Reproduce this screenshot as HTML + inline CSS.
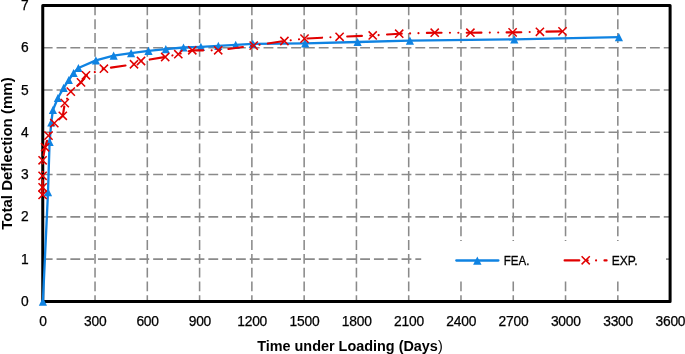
<!DOCTYPE html>
<html lang="en"><head><meta charset="utf-8"><title>Total Deflection vs Time under Loading</title>
<style>html,body{margin:0;padding:0;background:#fff;}body{width:685px;height:354px;overflow:hidden;}svg{display:block;}text{font-family:'Liberation Sans', sans-serif;fill:#000;}</style>
</head><body>
<svg width="685" height="354" viewBox="0 0 685 354">
<rect x="0" y="0" width="685" height="354" fill="#ffffff"/>
<g stroke="#8a8a8a" stroke-width="1.55" stroke-dasharray="9.85 3.95" fill="none">
<line x1="42.75" y1="259.13" x2="670.10" y2="259.13"/>
<line x1="42.75" y1="216.86" x2="670.10" y2="216.86"/>
<line x1="42.75" y1="174.59" x2="670.10" y2="174.59"/>
<line x1="42.75" y1="132.31" x2="670.10" y2="132.31"/>
<line x1="42.75" y1="90.04" x2="670.10" y2="90.04"/>
<line x1="42.75" y1="47.77" x2="670.10" y2="47.77"/>
<line x1="95.03" y1="5.50" x2="95.03" y2="301.40"/>
<line x1="147.31" y1="5.50" x2="147.31" y2="301.40"/>
<line x1="199.59" y1="5.50" x2="199.59" y2="301.40"/>
<line x1="251.87" y1="5.50" x2="251.87" y2="301.40"/>
<line x1="304.15" y1="5.50" x2="304.15" y2="301.40"/>
<line x1="356.43" y1="5.50" x2="356.43" y2="301.40"/>
<line x1="408.70" y1="5.50" x2="408.70" y2="301.40"/>
<line x1="460.98" y1="5.50" x2="460.98" y2="301.40"/>
<line x1="513.26" y1="5.50" x2="513.26" y2="301.40"/>
<line x1="565.54" y1="5.50" x2="565.54" y2="301.40"/>
<line x1="617.82" y1="5.50" x2="617.82" y2="301.40"/>
</g>
<rect x="421.2" y="241" width="244.8" height="40" fill="#fff"/>
<rect x="42.75" y="5.50" width="627.35" height="295.90" fill="none" stroke="#000" stroke-width="3" stroke-linejoin="round"/>
<polyline points="42.90,301.60 48.00,192.10 49.60,141.90 51.30,122.40 52.90,110.00 57.90,98.00 63.60,87.90 68.80,80.00 73.60,73.00 78.40,68.00 95.90,60.40 113.65,55.70 131.10,53.10 148.50,50.85 165.80,49.10 183.50,47.50 200.90,46.80 218.35,45.80 235.70,44.80 252.80,43.80 305.20,43.30 357.60,42.00 409.90,40.70 514.30,39.40 618.90,37.10" fill="none" stroke="#0F83E2" stroke-width="2.3" stroke-linejoin="round" stroke-linecap="round"/>
<g fill="#0F83E2">
<polygon points="42.90,297.50 47.00,305.70 38.80,305.70"/>
<polygon points="48.00,188.00 52.10,196.20 43.90,196.20"/>
<polygon points="49.60,137.80 53.70,146.00 45.50,146.00"/>
<polygon points="51.30,118.30 55.40,126.50 47.20,126.50"/>
<polygon points="52.90,105.90 57.00,114.10 48.80,114.10"/>
<polygon points="57.90,93.90 62.00,102.10 53.80,102.10"/>
<polygon points="63.60,83.80 67.70,92.00 59.50,92.00"/>
<polygon points="68.80,75.90 72.90,84.10 64.70,84.10"/>
<polygon points="73.60,68.90 77.70,77.10 69.50,77.10"/>
<polygon points="78.40,63.90 82.50,72.10 74.30,72.10"/>
<polygon points="95.90,56.30 100.00,64.50 91.80,64.50"/>
<polygon points="113.65,51.60 117.75,59.80 109.55,59.80"/>
<polygon points="131.10,49.00 135.20,57.20 127.00,57.20"/>
<polygon points="148.50,46.75 152.60,54.95 144.40,54.95"/>
<polygon points="165.80,45.00 169.90,53.20 161.70,53.20"/>
<polygon points="183.50,43.40 187.60,51.60 179.40,51.60"/>
<polygon points="200.90,42.70 205.00,50.90 196.80,50.90"/>
<polygon points="218.35,41.70 222.45,49.90 214.25,49.90"/>
<polygon points="235.70,40.70 239.80,48.90 231.60,48.90"/>
<polygon points="252.80,39.70 256.90,47.90 248.70,47.90"/>
<polygon points="305.20,39.20 309.30,47.40 301.10,47.40"/>
<polygon points="357.60,37.90 361.70,46.10 353.50,46.10"/>
<polygon points="409.90,36.60 414.00,44.80 405.80,44.80"/>
<polygon points="514.30,35.30 518.40,43.50 510.20,43.50"/>
<polygon points="618.90,33.00 623.00,41.20 614.80,41.20"/>
</g>
<polyline points="42.60,194.90 42.60,187.30 42.60,175.80 42.60,160.30 45.10,147.30 48.50,135.60 54.30,123.10 62.80,115.80 64.80,103.10 70.80,91.60 81.00,82.40 86.00,75.30 103.90,68.70 134.00,64.25 141.00,61.00 165.20,57.00 178.30,54.20 192.30,50.30 218.20,50.30 253.70,45.60 284.40,41.00 304.50,38.60 339.60,36.80 372.70,35.45 399.20,33.70 434.70,32.70 470.40,32.70 512.60,32.40 539.90,31.80 562.50,31.40" fill="none" stroke="#E10000" stroke-width="2.15" stroke-linejoin="round" stroke-linecap="round" stroke-dasharray="14.68 8.39 0.01 8.39 0.01 8.39" stroke-dashoffset="0"/>
<g stroke="#E10000" stroke-width="1.5" fill="none" stroke-linecap="butt">
<path d="M38.50 190.80L46.70 199.00M38.50 199.00L46.70 190.80"/>
<path d="M38.50 183.20L46.70 191.40M38.50 191.40L46.70 183.20"/>
<path d="M38.50 171.70L46.70 179.90M38.50 179.90L46.70 171.70"/>
<path d="M38.50 156.20L46.70 164.40M38.50 164.40L46.70 156.20"/>
<path d="M41.00 143.20L49.20 151.40M41.00 151.40L49.20 143.20"/>
<path d="M44.40 131.50L52.60 139.70M44.40 139.70L52.60 131.50"/>
<path d="M50.20 119.00L58.40 127.20M50.20 127.20L58.40 119.00"/>
<path d="M58.70 111.70L66.90 119.90M58.70 119.90L66.90 111.70"/>
<path d="M60.70 99.00L68.90 107.20M60.70 107.20L68.90 99.00"/>
<path d="M66.70 87.50L74.90 95.70M66.70 95.70L74.90 87.50"/>
<path d="M76.90 78.30L85.10 86.50M76.90 86.50L85.10 78.30"/>
<path d="M81.90 71.20L90.10 79.40M81.90 79.40L90.10 71.20"/>
<path d="M99.80 64.60L108.00 72.80M99.80 72.80L108.00 64.60"/>
<path d="M129.90 60.15L138.10 68.35M129.90 68.35L138.10 60.15"/>
<path d="M136.90 56.90L145.10 65.10M136.90 65.10L145.10 56.90"/>
<path d="M161.10 52.90L169.30 61.10M161.10 61.10L169.30 52.90"/>
<path d="M174.20 50.10L182.40 58.30M174.20 58.30L182.40 50.10"/>
<path d="M188.20 46.20L196.40 54.40M188.20 54.40L196.40 46.20"/>
<path d="M214.10 46.20L222.30 54.40M214.10 54.40L222.30 46.20"/>
<path d="M249.60 41.50L257.80 49.70M249.60 49.70L257.80 41.50"/>
<path d="M280.30 36.90L288.50 45.10M280.30 45.10L288.50 36.90"/>
<path d="M300.40 34.50L308.60 42.70M300.40 42.70L308.60 34.50"/>
<path d="M335.50 32.70L343.70 40.90M335.50 40.90L343.70 32.70"/>
<path d="M368.60 31.35L376.80 39.55M368.60 39.55L376.80 31.35"/>
<path d="M395.10 29.60L403.30 37.80M395.10 37.80L403.30 29.60"/>
<path d="M430.60 28.60L438.80 36.80M430.60 36.80L438.80 28.60"/>
<path d="M466.30 28.60L474.50 36.80M466.30 36.80L474.50 28.60"/>
<path d="M508.50 28.30L516.70 36.50M508.50 36.50L516.70 28.30"/>
<path d="M535.80 27.70L544.00 35.90M535.80 35.90L544.00 27.70"/>
<path d="M558.40 27.30L566.60 35.50M558.40 35.50L566.60 27.30"/>
</g>
<g font-size="13.8" text-anchor="end" stroke="#000" stroke-width="0.25">
<text x="28.6" y="305.90">0</text>
<text x="28.6" y="263.63">1</text>
<text x="28.6" y="221.36">2</text>
<text x="28.6" y="179.09">3</text>
<text x="28.6" y="136.81">4</text>
<text x="28.6" y="94.54">5</text>
<text x="28.6" y="52.27">6</text>
<text x="28.6" y="10.00">7</text>
</g>
<g font-size="13.8" text-anchor="middle" stroke="#000" stroke-width="0.25" letter-spacing="-0.2">
<text x="43.05" y="325.5">0</text>
<text x="95.33" y="325.5">300</text>
<text x="147.61" y="325.5">600</text>
<text x="199.89" y="325.5">900</text>
<text x="252.17" y="325.5">1200</text>
<text x="304.45" y="325.5">1500</text>
<text x="356.73" y="325.5">1800</text>
<text x="409.00" y="325.5">2100</text>
<text x="461.28" y="325.5">2400</text>
<text x="513.56" y="325.5">2700</text>
<text x="565.84" y="325.5">3000</text>
<text x="618.12" y="325.5">3300</text>
<text x="670.40" y="325.5">3600</text>
</g>
<text x="257.2" y="351" font-size="14" font-weight="bold" textLength="185.5" lengthAdjust="spacingAndGlyphs">Time under Loading (Days<tspan font-weight="normal">)</tspan></text>
<text transform="translate(12.2 229.8) rotate(-90)" x="0" y="0" font-size="14" font-weight="bold" textLength="152.5" lengthAdjust="spacingAndGlyphs">Total Deflection (mm)</text>
<line x1="456.3" y1="260.5" x2="498.4" y2="260.5" stroke="#0F83E2" stroke-width="2.3" stroke-linecap="round"/>
<g fill="#0F83E2"><polygon points="477.30,256.50 481.50,264.70 473.10,264.70"/></g>
<text x="503.8" y="264.7" font-size="13.5" stroke="#000" stroke-width="0.3" textLength="25.6" lengthAdjust="spacingAndGlyphs">FEA.</text>
<line x1="564.6" y1="260.4" x2="606.6" y2="260.4" stroke="#E10000" stroke-width="2.15" stroke-linecap="round" stroke-dasharray="14.68 8.39 0.01 8.39 0.01 8.39"/>
<g stroke="#E10000" stroke-width="1.5" fill="none"><path d="M581.60 256.20L589.80 264.40M581.60 264.40L589.80 256.20"/></g>
<text x="611.7" y="264.7" font-size="13.5" stroke="#000" stroke-width="0.3" textLength="25.9" lengthAdjust="spacingAndGlyphs">EXP.</text>
</svg>
</body></html>
